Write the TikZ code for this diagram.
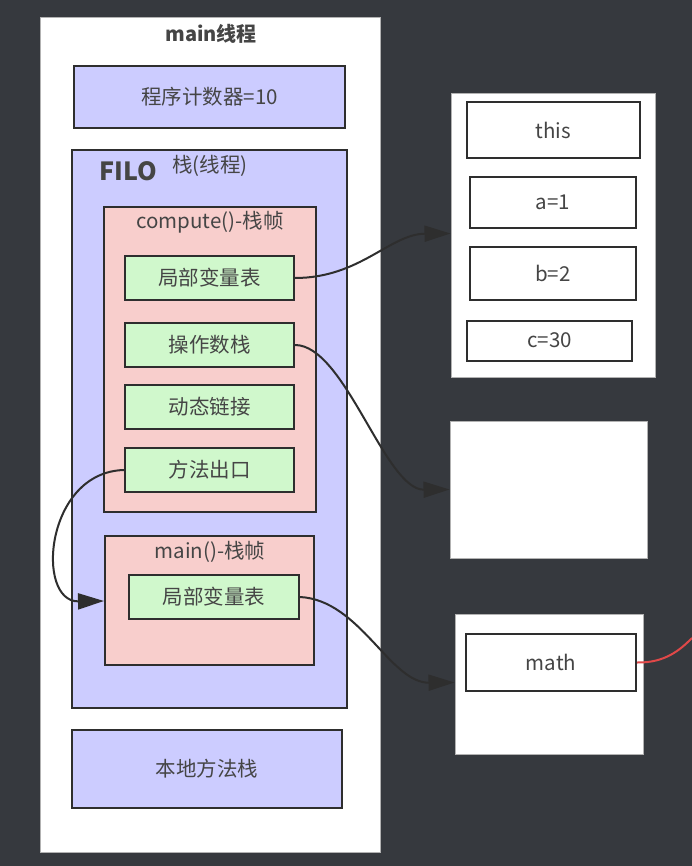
\documentclass[tikz,border=0pt]{standalone}
\usepackage{fontspec}
\setmainfont{Noto Sans CJK SC}
\usetikzlibrary{arrows.meta,calc}
\definecolor{bgc}{HTML}{36393E}
\definecolor{linec}{HTML}{2E2E2E}
\definecolor{txtc}{HTML}{454545}
\definecolor{bluef}{HTML}{CCCCFF}
\definecolor{pinkf}{HTML}{F8CECC}
\definecolor{greenf}{HTML}{D0F8CC}
\definecolor{redl}{HTML}{E04848}
\begin{document}
\begin{tikzpicture}[x=1pt,y=-1pt,
  bx/.style={draw=linec,line width=2pt,inner sep=0pt,text=txtc,font=\fontsize{20.5}{23}\selectfont},
  bluebox/.style={bx,fill=bluef},
  pinkbox/.style={bx,fill=pinkf},
  greenbox/.style={bx,fill=greenf},
  whitebox/.style={bx,fill=white},
  panel/.style={draw=gray!60,line width=1pt,fill=white,inner sep=0pt},
  lbl/.style={text=txtc,inner sep=0pt,font=\fontsize{20.5}{23}\selectfont},
  conn/.style={draw=linec,line width=2pt,-{Triangle[length=26pt,width=16pt]}}
]
\useasboundingbox (0,0) rectangle (692,866);
\fill[bgc] (0,0) rectangle (692,866);

% main thread panel
\node[panel,minimum width=340pt,minimum height=834pt] (outer) at (210,435) {};
\node[lbl,font=\bfseries\fontsize{20}{23}\selectfont] (title) at (211,34) {main线程};
\node[bluebox,minimum width=271pt,minimum height=62pt] (pc) at (209.5,97) {程序计数器=10};
\node[bluebox,minimum width=275pt,minimum height=558pt] (stack) at (209.5,429) {};
\node[lbl,font=\bfseries\fontsize{25}{28}\selectfont] (filo) at (128,171) {FILO};
\node[lbl] (stacklbl) at (210,166) {栈(线程)};

% compute frame
\node[pinkbox,minimum width=212pt,minimum height=305pt] (compute) at (210,359.5) {};
\node[lbl] (computelbl) at (210,222) {compute()-栈帧};
\node[greenbox,minimum width=169pt,minimum height=44pt] (lv1) at (209.5,278) {局部变量表};
\node[greenbox,minimum width=169pt,minimum height=44pt] (ops) at (209.5,345) {操作数栈};
\node[greenbox,minimum width=169pt,minimum height=44pt] (dyn) at (209.5,407) {动态链接};
\node[greenbox,minimum width=169pt,minimum height=44pt] (exit) at (209.5,470) {方法出口};

% main frame
\node[pinkbox,minimum width=209pt,minimum height=129pt] (mainframe) at (209.5,600.5) {};
\node[lbl] (mainlbl) at (210,552) {main()-栈帧};
\node[greenbox,minimum width=170pt,minimum height=44pt] (lv2) at (214,597) {局部变量表};

% native stack
\node[bluebox,minimum width=270pt,minimum height=78pt] (native) at (207,769) {本地方法栈};

% heap objects
\node[panel,minimum width=204pt,minimum height=283pt] (heap1) at (553,235.5) {};
\node[whitebox,minimum width=173pt,minimum height=56pt] (this) at (553.5,130) {this};
\node[whitebox,minimum width=166pt,minimum height=51pt] (va) at (553,202.5) {a=1};
\node[whitebox,minimum width=166pt,minimum height=53pt] (vb) at (553,273.5) {b=2};
\node[whitebox,minimum width=165pt,minimum height=40pt] (vc) at (549.5,340.5) {c=30};
\node[panel,minimum width=197pt,minimum height=137pt] (heap2) at (548.5,489.5) {};
\node[panel,minimum width=188pt,minimum height=140pt] (heap3) at (549,684) {};
\node[whitebox,minimum width=170pt,minimum height=57pt] (math) at (551,662.5) {math};

% connector end points
\coordinate (h1in) at ($(heap1.north west)+(0,140)$);
\coordinate (h2in) at (heap2.west);
\coordinate (h3in) at ($(heap3.north west)+(0,69)$);
\coordinate (mfin) at ($(mainframe.north west)+(0,66)$);
\coordinate (redend) at (692,638);

% connectors
\draw[conn] (lv1.east) .. controls (360,278) and (390,234) .. (h1in);
\draw[conn] (ops.east) .. controls (345,345) and (385,490) .. (h2in);
\draw[conn] (exit.west) .. controls (45,472) and (35,602) .. (mfin);
\draw[conn] (lv2.east) .. controls (360,600) and (390,683) .. (h3in);
\draw[draw=redl,line width=2pt] (math.east) .. controls (665,663) and (680,650) .. (redend);
\end{tikzpicture}
\end{document}
